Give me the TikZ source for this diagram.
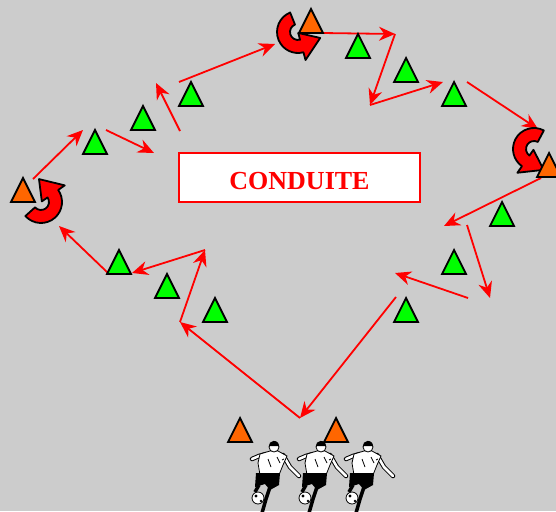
\documentclass[tikz,border=0pt]{standalone}
\usepackage{fontspec}
\setmainfont{Liberation Serif}
\usepackage{tikz}
\usetikzlibrary{arrows.meta}

\definecolor{field}{HTML}{CCCCCC}
\definecolor{conegreen}{HTML}{00FF00}
\definecolor{coneorange}{HTML}{FF6600}

\tikzset{
  runline/.style={draw=red, line width=1.8pt, -{Stealth[length=16pt,width=14pt]}},
  cone/.style={fill=#1, draw=black, line width=1.8pt},
  uturn/.style={fill=red, draw=black, line width=1.8pt, line join=round},
  titlebox/.style={draw=red, fill=white, line width=1.6pt, minimum width=241pt,
    minimum height=49pt, text height=24pt, text depth=0pt, text=red,
    font=\bfseries\fontsize{26}{30}\selectfont},
}

\begin{document}
\begin{tikzpicture}[x=1pt, y=1pt]

\useasboundingbox (0,0) rectangle (556,-511);
\clip (0,0) rectangle (556,-511);
\fill[field] (0,0) rectangle (556,-511);

\coordinate (c1) at (396,-297);
\coordinate (c2) at (300,-418);
\coordinate (c3) at (180,-322);
\coordinate (c4) at (205,-250);
\coordinate (c5) at (132,-273);
\coordinate (c6) at (108,-273);
\coordinate (c7) at (59,-226);
\coordinate (c8) at (33,-179);
\coordinate (c9) at (83,-130);
\coordinate (c10) at (106,-130);
\coordinate (c11) at (154,-153);
\coordinate (c12) at (180,-131);
\coordinate (c13) at (156,-83);
\coordinate (c14) at (179,-82);
\coordinate (c15) at (275,-44);
\coordinate (c16) at (322,-33);
\coordinate (c17) at (395,-34);
\coordinate (c18) at (370,-105);
\coordinate (c19) at (443,-82);
\coordinate (c20) at (467,-82);
\coordinate (c21) at (538,-129);
\coordinate (c22) at (541,-178);
\coordinate (c23) at (444,-226);
\coordinate (c24) at (467,-225);
\coordinate (c25) at (490,-298);
\coordinate (c26) at (468,-298);
\coordinate (c27) at (395,-273);

\foreach \a/\b in {c1/c2, c2/c3, c3/c4, c4/c5, c6/c7, c8/c9, c10/c11, c12/c13,
                   c14/c15, c16/c17, c17/c18, c18/c19, c20/c21, c22/c23, c24/c25, c26/c27}
    \draw[runline] (\a) -- (\b);

% turning points
\foreach \x/\y/\r in {298/-32/0, 41/-202/110, 534/-149/-50} {
  \begin{scope}[shift={(\x,\y)}, rotate=\r]
    \filldraw[uturn] (112:21) arc[start angle=112, end angle=285, radius=21]
      -- (285:29) -- (345:23) -- (285:1) -- (285:8)
      arc[start angle=285, end angle=112, radius=8] -- cycle;
  \end{scope}
}

\foreach \x/\y in {95/-154, 143/-130, 191/-106, 358/-58, 406/-82, 454/-106,
                   502/-226, 454/-274, 406/-322, 119/-274, 167/-298, 215/-322}
    \filldraw[cone=conegreen] (\x-12,\y) -- (\x+12,\y) -- (\x,\y+24) -- cycle;

\foreach \x/\y in {311/-33, 23/-202, 549/-177, 240/-442, 336/-442}
    \filldraw[cone=coneorange] (\x-12,\y) -- (\x+12,\y) -- (\x,\y+24) -- cycle;

\node[titlebox] (title) at (299.5,-177.5) {CONDUITE};

% players
\foreach \x in {274,321,368} {
  \begin{scope}[shift={(\x,-447)}]
    \draw[black, line width=4.5pt, line cap=round] (-8,-7) -- (-15,-9) -- (-22,-12);
    \draw[white, line width=2.5pt, line cap=round] (-8,-7) -- (-15,-9) -- (-22,-12);
    \draw[black, line width=4.5pt, line cap=round] (9,-8) -- (16,-20) -- (25,-29);
    \draw[white, line width=2.5pt, line cap=round] (9,-8) -- (16,-20) -- (25,-29);
    \filldraw[fill=white, draw=black, line width=0.8pt] (-4,-4) -- (-14,-7) -- (-16,-16)
      -- (-14,-28) -- (5,-28) -- (9,-18) -- (13,-9) -- (4,-4) -- cycle;
    \draw[black, line width=0.8pt] (-6,-12) -- (-3,-20) (3,-10) -- (6,-16) (8,-13) -- (10,-12);
    \fill[black] (-18,-26) -- (6,-26) -- (5,-38) -- (-4,-43) -- (-9,-37) -- (-19,-40) -- cycle;
    \draw[black, line width=3.5pt] (-15,-38) -- (-19,-45);
    \draw[black, line width=3.5pt] (-4,-40) -- (-8,-52) -- (-12,-66);
    \filldraw[fill=white, draw=black, line width=0.8pt] (-16,-51) circle (6);
    \fill[black] (-18,-49) circle (1.6) (-13,-54) circle (1.4);
    \filldraw[fill=white, draw=black, line width=0.8pt] (0,0) circle (5);
    \fill[black] (-5.2,0.5) arc[start angle=185, end angle=-5, radius=5.2] -- (3,1) -- (-3,1) -- cycle;
  \end{scope}
}

\end{tikzpicture}
\end{document}
